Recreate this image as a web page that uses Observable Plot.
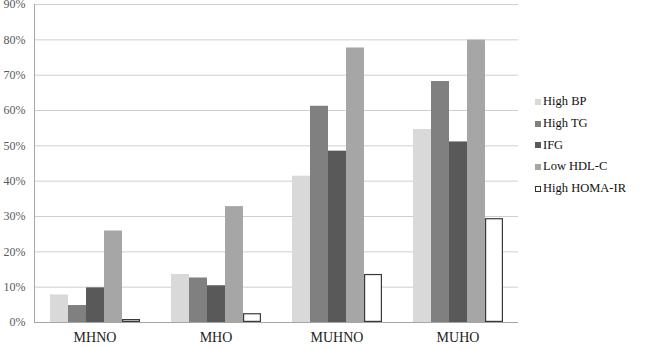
<!DOCTYPE html>
<html>
<head>
<meta charset="utf-8">
<script src="https://cdn.jsdelivr.net/npm/d3@7"></script>
<script src="https://cdn.jsdelivr.net/npm/@observablehq/plot@0.6"></script>
<style>
  body { margin: 0; background: #fff; }
  #wrap { position: relative; width: 649px; height: 349px; font-family: "Liberation Serif", "Times New Roman", serif; }
  #legend { position: absolute; left: 535px; top: 91px; font-size: 12.5px; color: #111; }
  .item { display: flex; align-items: center; height: 21.7px; white-space: nowrap; }
  .sw { width: 6px; height: 6px; margin-right: 2px; box-sizing: border-box; }
</style>
</head>
<body>
<div id="wrap"></div>
<script>
const groups = ["MHNO", "MHO", "MUHNO", "MUHO"];
const series = ["High BP", "High TG", "IFG", "Low HDL-C", "High HOMA-IR"];
const highBP   = [0.078, 0.136, 0.414, 0.546];
const highTG   = [0.048, 0.126, 0.612, 0.682];
const ifg      = [0.098, 0.104, 0.485, 0.511];
const lowHDL   = [0.259, 0.328, 0.777, 0.799];
const highHOMA = [0.0085, 0.025, 0.136, 0.294];
const yTicks = [0, 0.1, 0.2, 0.3, 0.4, 0.5, 0.6, 0.7, 0.8, 0.9];
const colors = ["#d9d9d9", "#808080", "#595959", "#a6a6a6", "#ffffff"];

const valuesBySeries = [highBP, highTG, ifg, lowHDL, highHOMA];
const data = [];
groups.forEach((g, gi) => series.forEach((s, si) => data.push({group: g, series: s, value: valuesBySeries[si][gi]})));

const plot = Plot.plot({
  width: 649,
  height: 349,
  marginLeft: 33,
  marginRight: 131,
  marginTop: 4,
  marginBottom: 27,
  style: {fontFamily: "'Liberation Serif', 'Times New Roman', serif", background: "white"},
  fx: {domain: groups, padding: 0, label: null, axis: null},
  x: {domain: series, axis: null, paddingInner: 0, paddingOuter: 0.77},
  y: {domain: [0, 0.9], axis: null},
  color: {domain: series, range: colors},
  marks: [
    Plot.gridY(yTicks, {stroke: "#cfcfcf", strokeOpacity: 1}),
    Plot.ruleY([0], {stroke: "#a6a6a6"}),
    Plot.barY(data.filter(d => d.series !== "High HOMA-IR"), {fx: "group", x: "series", y: "value", fill: "series"}),
    Plot.barY(data.filter(d => d.series === "High HOMA-IR"), {fx: "group", x: "series", y: "value", fill: "#ffffff", stroke: "#3a3a3a", strokeWidth: 1.2, inset: 0.6}),
    Plot.axisY(yTicks, {tickFormat: d3.format(".0%"), tickSize: 0, tickPadding: 9, fontSize: 12, fill: "#595959", label: null}),
    Plot.axisFx({anchor: "bottom", tickSize: 0, tickPadding: 10, fontSize: 14, fill: "#222", label: null}),
    Plot.frame({anchor: "left", facetAnchor: "left", stroke: "#a6a6a6"})
  ]
});
const wrap = document.getElementById("wrap");
wrap.appendChild(plot);

const legend = document.createElement("div");
legend.id = "legend";
series.forEach((s, i) => {
  const item = document.createElement("div");
  item.className = "item";
  const sw = document.createElement("span");
  sw.className = "sw";
  sw.style.background = colors[i];
  if (s === "High HOMA-IR") sw.style.border = "1px solid #333";
  const t = document.createElement("span");
  t.textContent = s;
  item.appendChild(sw);
  item.appendChild(t);
  legend.appendChild(item);
});
wrap.appendChild(legend);
</script>
</body>
</html>
